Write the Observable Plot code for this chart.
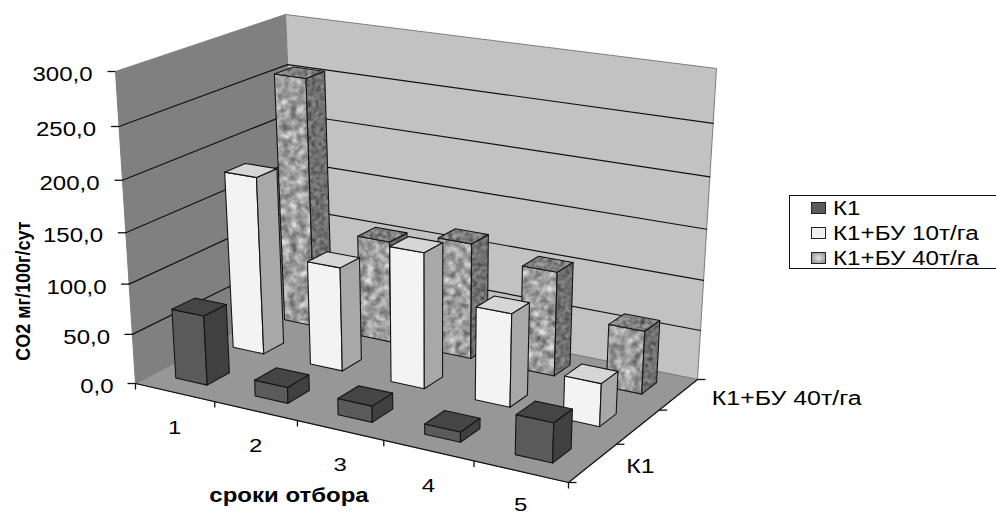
<!DOCTYPE html>
<html lang="ru">
<head>
<meta charset="utf-8">
<script src="https://cdn.jsdelivr.net/npm/d3@7"></script>
<script src="https://cdn.jsdelivr.net/npm/@observablehq/plot@0.6"></script>
<style>
  html, body { margin: 0; padding: 0; background: #fff; width: 996px; height: 515px; overflow: hidden; }
  #chart { position: relative; width: 996px; height: 515px; font-family: "Liberation Sans", Arial, sans-serif; color: #000; }
  #defs { position: absolute; width: 0; height: 0; }
  .legend { position: absolute; left: 789px; top: 195px; width: 207px; height: 74px; box-sizing: border-box;
            border: 1.5px solid #111; border-right: 0; font-size: 20px; line-height: 17px; }
  .legend div { position: absolute; left: 0; height: 17px; white-space: nowrap; }
  .legend i { position: absolute; left: 21px; top: 2px; width: 15px; height: 12px; box-sizing: border-box; border: 1.5px solid #222; }
  .legend span { position: absolute; left: 43px; top: 0; transform: scaleX(1.21); transform-origin: left center; }
</style>
</head>
<body>
<div id="chart">
  <svg id="defs" aria-hidden="true">
    <defs>
      <filter id="mottleFront" x="0" y="0" width="100%" height="100%" color-interpolation-filters="sRGB">
        <feTurbulence type="fractalNoise" baseFrequency="0.13" numOctaves="3" seed="4"/>
        <feColorMatrix type="matrix" values="0 0 0 0 0.25  0 0 0 0 0.25  0 0 0 0 0.25  0.9 0.9 0 0 -0.5"/>
        <feComposite in2="SourceGraphic" operator="in" result="spots"/>
        <feMerge><feMergeNode in="SourceGraphic"/><feMergeNode in="spots"/></feMerge>
      </filter>
      <filter id="mottleDark" x="0" y="0" width="100%" height="100%" color-interpolation-filters="sRGB">
        <feTurbulence type="fractalNoise" baseFrequency="0.24" numOctaves="3" seed="9"/>
        <feColorMatrix type="matrix" values="0 0 0 0 0.15  0 0 0 0 0.15  0 0 0 0 0.15  0.8 0.8 0 0 -0.5"/>
        <feComposite in2="SourceGraphic" operator="in" result="spots"/>
        <feMerge><feMergeNode in="SourceGraphic"/><feMergeNode in="spots"/></feMerge>
      </filter>
      <pattern id="graniteFront" width="220" height="320" patternUnits="userSpaceOnUse">
        <rect width="220" height="320" fill="#dedede" filter="url(#mottleFront)"/>
      </pattern>
      <pattern id="graniteSide" width="220" height="320" patternUnits="userSpaceOnUse">
        <rect width="220" height="320" fill="#8f8f8f" filter="url(#mottleDark)"/>
      </pattern>
      <pattern id="graniteTop" width="220" height="320" patternUnits="userSpaceOnUse">
        <rect width="220" height="320" fill="#a6a6a6" filter="url(#mottleDark)"/>
      </pattern>
    </defs>
  </svg>
  <div id="plot"></div>
  <div class="legend" id="legend"></div>
</div>
<script>
// Soil CO2 emission by sampling date and treatment
const categories = ["1", "2", "3", "4", "5"];
const seriesNames = ["К1", "К1+БУ 10т/га", "К1+БУ 40т/га"];
const depthLabels = ["К1", "", "К1+БУ 40т/га"];
const valueTicks = [0, 50, 100, 150, 200, 250, 300];
const k1 = [70, 16, 16, 10, 38];
const k1bu10 = [180, 105, 135, 92, 42];
const k1bu40 = [256, 105, 118, 105, 63];
const seriesValues = [k1, k1bu10, k1bu40];

const xTitle = "сроки отбора";
const yTitle = "CO2 мг/100г/сут";

// Face shades per series: front, side, top
const shades = [
  {front: "#5a5a5a", side: "#404040", top: "#454545"},
  {front: "#f3f3f3", side: "#a8a8a8", top: "#d6d6d6"},
  {front: "url(#graniteFront)", side: "url(#graniteSide)", top: "url(#graniteTop)"}
];
const legendSwatch = ["#5a5a5a", "#efefef", "radial-gradient(#e4e4e4, #8a8a8a)"];

// Oblique view of the chart box: where its eight corners land on the page.
// Keys are category end, depth end, value end.
const box = {
  "000": [135, 383], "001": [115, 71],
  "010": [297, 298], "011": [285, 14],
  "100": [568, 482], "101": [579, 138],
  "110": [697, 379], "111": [716, 68]
};
// Foreshortening along each axis
const warp = (t, w) => t / (t + w * (1 - t));
const lerp = (a, b, t) => a + (b - a) * t;

function project(c, s, v) {
  const tc = warp(c / categories.length, 1.116);
  const ts = warp(s / seriesNames.length, 0.847);
  const tv = warp(v / 300, 1.07);
  return [0, 1].map(k => lerp(
    lerp(lerp(box["000"][k], box["001"][k], tv), lerp(box["010"][k], box["011"][k], tv), ts),
    lerp(lerp(box["100"][k], box["101"][k], tv), lerp(box["110"][k], box["111"][k], tv), ts),
    tc));
}

// Every drawn face is a closed ring of projected points
const poly = (id, fill, corners) => [...corners, corners[0]].map(([c, s, v]) => {
  const [x, y] = project(c, s, v);
  return {id, fill, x, y};
});

const cN = categories.length, sN = seriesNames.length;
const walls = [
  ...poly("left", "#808080", [[0, 0, 0], [0, sN, 0], [0, sN, 300], [0, 0, 300]]),
  ...poly("back", "#c2c2c2", [[0, sN, 0], [cN, sN, 0], [cN, sN, 300], [0, sN, 300]]),
  ...poly("floor", "#979797", [[0, 0, 0], [cN, 0, 0], [cN, sN, 0], [0, sN, 0]])
];

const grid = valueTicks.filter(v => v > 0 && v < 300).flatMap(v =>
  [[0, 0], [0, sN], [cN, sN]].map(([c, s]) => {
    const [x, y] = project(c, s, v);
    return {v, x, y};
  }));

// Columns are painted from the back row forward, left to right
const halfC = 0.2, halfS = 0.19, shiftC = -0.03;
const faces = [];
for (let s = sN - 1; s >= 0; s--) {
  categories.forEach((_, c) => {
    const v = seriesValues[s][c];
    const c0 = c + .5 + shiftC - halfC, c1 = c + .5 + shiftC + halfC, s0 = s + .5 - halfS, s1 = s + .5 + halfS;
    const id = `${s}-${c}`;
    faces.push(
      ...poly(id + "f", shades[s].front, [[c0, s0, 0], [c1, s0, 0], [c1, s0, v], [c0, s0, v]]),
      ...poly(id + "r", shades[s].side, [[c1, s0, 0], [c1, s1, 0], [c1, s1, v], [c1, s0, v]]),
      ...poly(id + "t", shades[s].top, [[c0, s0, v], [c1, s0, v], [c1, s1, v], [c0, s1, v]])
    );
  });
}

const at = (c, s, v) => { const [x, y] = project(c, s, v); return {x, y}; };
const frontEdge = [at(0, 0, 0), at(cN, 0, 0), at(cN, sN, 0)];

const valueTickRows = valueTicks.map(v => ({v, ...at(0, 0, v), label: v.toFixed(1).replace(".", ",")}));
const catTicks = d3.range(cN + 1).map(c => at(c, 0, 0));
const depthTicks = d3.range(sN + 1).map(s => at(cN, s, 0));
const catLabels = categories.map((label, c) => ({label, ...at(c + .5, 0, 0)}));
const depthRows = depthLabels.map((label, s) => ({label, ...at(cN, s + .5, 0)})).filter(d => d.label);

const chart = Plot.plot({
  width: 996, height: 515, margin: 0,
  x: {type: "linear", domain: [0, 996], range: [0, 996], axis: null},
  y: {type: "linear", domain: [0, 515], range: [0, 515], axis: null},
  color: {type: "identity"},
  style: {fontFamily: '"Liberation Sans", Arial, sans-serif', background: "transparent", overflow: "visible"},
  marks: [
    Plot.line(walls, {x: "x", y: "y", z: "id", fill: "fill", stroke: "#7d7d7d", strokeWidth: 1}),
    Plot.line(grid, {x: "x", y: "y", z: "v", stroke: "#111", strokeWidth: 1.2}),
    Plot.line(frontEdge, {x: "x", y: "y", stroke: "#111", strokeWidth: 1.2}),
    Plot.link(valueTickRows, {x1: d => d.x - 8, y1: "y", x2: "x", y2: "y", stroke: "#111", strokeWidth: 1.3}),
    Plot.link(catTicks, {x1: "x", y1: "y", x2: "x", y2: d => d.y + 6, stroke: "#111", strokeWidth: 1.3}),
    Plot.link(depthTicks, {x1: "x", y1: "y", x2: d => d.x + 8, y2: "y", stroke: "#111", strokeWidth: 1.3}),
    Plot.line(faces, {x: "x", y: "y", z: "id", fill: "fill", stroke: "#151515", strokeWidth: 1.1}),
    Plot.text(valueTickRows, {x: d => 113 - 21 * d.v / 300, y: "y", text: "label", textAnchor: "end", dy: 3, fontSize: 20, fill: "#000"}),
    // Category labels hang below the edge but stay inside the page
    Plot.text(catLabels, {x: "x", y: d => Math.min(d.y + 35, 504), text: "label", fontSize: 19, fill: "#000"}),
    Plot.text(depthRows, {x: "x", y: "y", text: "label", textAnchor: "start", dx: 33, dy: 4, fontSize: 20, fill: "#000"}),
    Plot.text([xTitle], {x: at(1.9, 0, 0).x, y: at(1.9, 0, 0).y, text: d => d, dy: 77, fontSize: 20, fontWeight: "bold", fill: "#000"}),
    Plot.text([yTitle], {x: at(0, 0, 100).x, y: at(0, 0, 100).y, text: d => d, dx: -106, dy: 7, rotate: -90, fontSize: 20, fontWeight: "bold", fill: "#000"})
  ]
});
document.getElementById("plot").append(chart);

// Axis text is set wider than its natural width; per text mark, in mark order
const widthFactors = [1.2, 1.26, 1.245, 1.2, 0.9];
d3.select(chart).selectAll('g[aria-label="text"]').each(function (_, i) {
  d3.select(this).selectAll("text").each(function () {
    this.setAttribute("textLength", this.getComputedTextLength() * widthFactors[i]);
    this.setAttribute("lengthAdjust", "spacingAndGlyphs");
  });
});

// Series key beside the chart
const legend = document.getElementById("legend");
seriesNames.forEach((name, i) => {
  const row = document.createElement("div");
  row.style.top = `${3.5 + i * 25}px`;
  const swatch = document.createElement("i");
  swatch.style.background = legendSwatch[i];
  const text = document.createElement("span");
  text.textContent = name;
  row.append(swatch, text);
  legend.append(row);
});
</script>
</body>
</html>
